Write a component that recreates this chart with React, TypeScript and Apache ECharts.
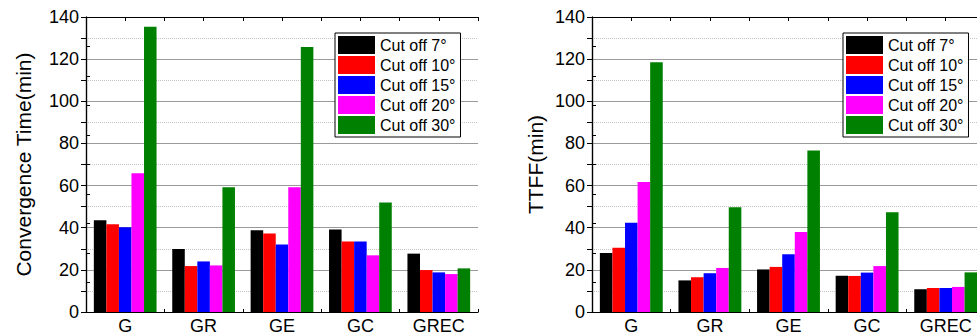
import React, { useEffect, useRef } from "react";
import * as echarts from "echarts";

const categories = ["G", "GR", "GE", "GC", "GREC"];
const cutoffNames = ["Cut off 7°", "Cut off 10°", "Cut off 15°", "Cut off 20°", "Cut off 30°"];
const cutoffColors = ["#000000", "#ff0000", "#0000ff", "#ff00ff", "#008000"];

// Convergence Time (min)
const conv7 = [43.5, 29.9, 38.8, 39.1, 27.7];
const conv10 = [41.6, 21.8, 37.3, 33.4, 19.9];
const conv15 = [40.2, 24.0, 32.0, 33.4, 18.8];
const conv20 = [65.8, 22.1, 59.2, 26.9, 18.0];
const conv30 = [135.4, 59.2, 125.8, 52.0, 20.7];

// TTFF (min)
const ttff7 = [28.0, 15.0, 20.2, 17.2, 10.8];
const ttff10 = [30.5, 16.5, 21.4, 17.1, 11.4];
const ttff15 = [42.4, 18.4, 27.4, 18.7, 11.4];
const ttff20 = [61.7, 20.9, 38.0, 21.8, 11.9];
const ttff30 = [118.5, 49.7, 76.6, 47.3, 18.8];

const convSeries = [conv7, conv10, conv15, conv20, conv30];
const ttffSeries = [ttff7, ttff10, ttff15, ttff20, ttff30];

const FONT = "Liberation Sans, Arial, Helvetica, sans-serif";

export default function App() {
  const ref = useRef<HTMLDivElement>(null);

  useEffect(() => {
    if (!ref.current) return;
    const chart = echarts.init(ref.current, null, { renderer: "svg" });

    const grids = [
      { left: 86, top: 17, width: 392, height: 295 },
      { left: 592, top: 17, width: 393, height: 295 },
    ];

    const xAxes: any[] = [];
    const yAxes: any[] = [];
    const frame = { show: true, lineStyle: { color: "#000", width: 1.2 } };

    grids.forEach((_, gi) => {
      // bottom category axis with labels
      xAxes.push({
        type: "category",
        gridIndex: gi,
        position: "bottom",
        data: categories,
        axisLine: frame,
        axisTick: { show: true, inside: true, alignWithLabel: true, length: 5, lineStyle: { color: "#000" } },
        axisLabel: { fontSize: 18, color: "#000", fontFamily: FONT, margin: 5 },
        splitLine: { show: false },
      });
      // bottom boundary ticks
      xAxes.push({
        type: "value",
        gridIndex: gi,
        position: "bottom",
        min: 0,
        max: 5,
        interval: 1,
        axisLine: { show: false },
        axisTick: { show: true, inside: true, length: 3, lineStyle: { color: "#000" } },
        axisLabel: { show: false },
        splitLine: { show: false },
      });
      // top frame with ticks at centers and boundaries
      xAxes.push({
        type: "value",
        gridIndex: gi,
        position: "top",
        min: 0,
        max: 10,
        interval: 1,
        axisLine: frame,
        axisTick: { show: true, inside: true, length: 4, lineStyle: { color: "#000" } },
        axisLabel: { show: false },
        splitLine: { show: false },
      });

      yAxes.push({
        type: "value",
        gridIndex: gi,
        position: "left",
        min: 0,
        max: 140,
        interval: 20,
        name: gi === 0 ? "Convergence Time(min)" : "TTFF(min)",
        nameLocation: "middle",
        nameRotate: 90,
        nameGap: gi === 0 ? 52 : 46,
        nameTextStyle: { fontSize: 21, color: "#000", fontFamily: FONT },
        axisLine: frame,
        axisTick: { show: true, inside: false, length: 5, lineStyle: { color: "#000" } },
        minorTick: { show: true, splitNumber: 2, length: 5, lineStyle: { color: "#000" } },
        axisLabel: { fontSize: 18, color: "#000", fontFamily: FONT, margin: 7 },
        splitLine: { show: true, lineStyle: { color: "#9a9a9a", width: 1 } },
        minorSplitLine: { show: true, lineStyle: { color: "#c4c4c4", width: 1, type: "dotted" } },
      });
      yAxes.push({
        type: "value",
        gridIndex: gi,
        position: "right",
        min: 0,
        max: 10,
        interval: 1,
        axisLine: frame,
        axisTick: { show: true, inside: false, length: 4, lineStyle: { color: "#000" } },
        axisLabel: { show: false },
        splitLine: { show: false },
      });
    });

    const series: any[] = [];
    [convSeries, ttffSeries].forEach((set, gi) => {
      set.forEach((vals, si) => {
        series.push({
          type: "bar",
          name: cutoffNames[si],
          xAxisIndex: gi * 3,
          yAxisIndex: gi * 2,
          data: vals,
          barGap: "0%",
          barCategoryGap: "20%",
          itemStyle: { color: cutoffColors[si] },
        });
      });
    });

    const legendBase = {
      orient: "vertical",
      top: 33,
      padding: [3, 5, 3, 3],
      itemGap: 2,
      itemWidth: 37,
      itemHeight: 18,
      icon: "rect",
      borderColor: "#000",
      borderWidth: 1,
      backgroundColor: "#fff",
      textStyle: { fontSize: 16, color: "#000", fontFamily: FONT },
      data: cutoffNames,
    };

    chart.setOption({
      animation: false,
      backgroundColor: "#fff",
      textStyle: { fontFamily: FONT },
      grid: grids,
      xAxis: xAxes,
      yAxis: yAxes,
      legend: [
        { ...legendBase, left: 335 },
        { ...legendBase, left: 843 },
      ],
      series,
    });

    return () => chart.dispose();
  }, []);

  return (
    <div style={{ position: "fixed", left: 0, top: 0, width: 977, height: 336, overflow: "hidden", background: "#fff" }}>
      <div ref={ref} style={{ width: 1000, height: 336 }} />
    </div>
  );
}
